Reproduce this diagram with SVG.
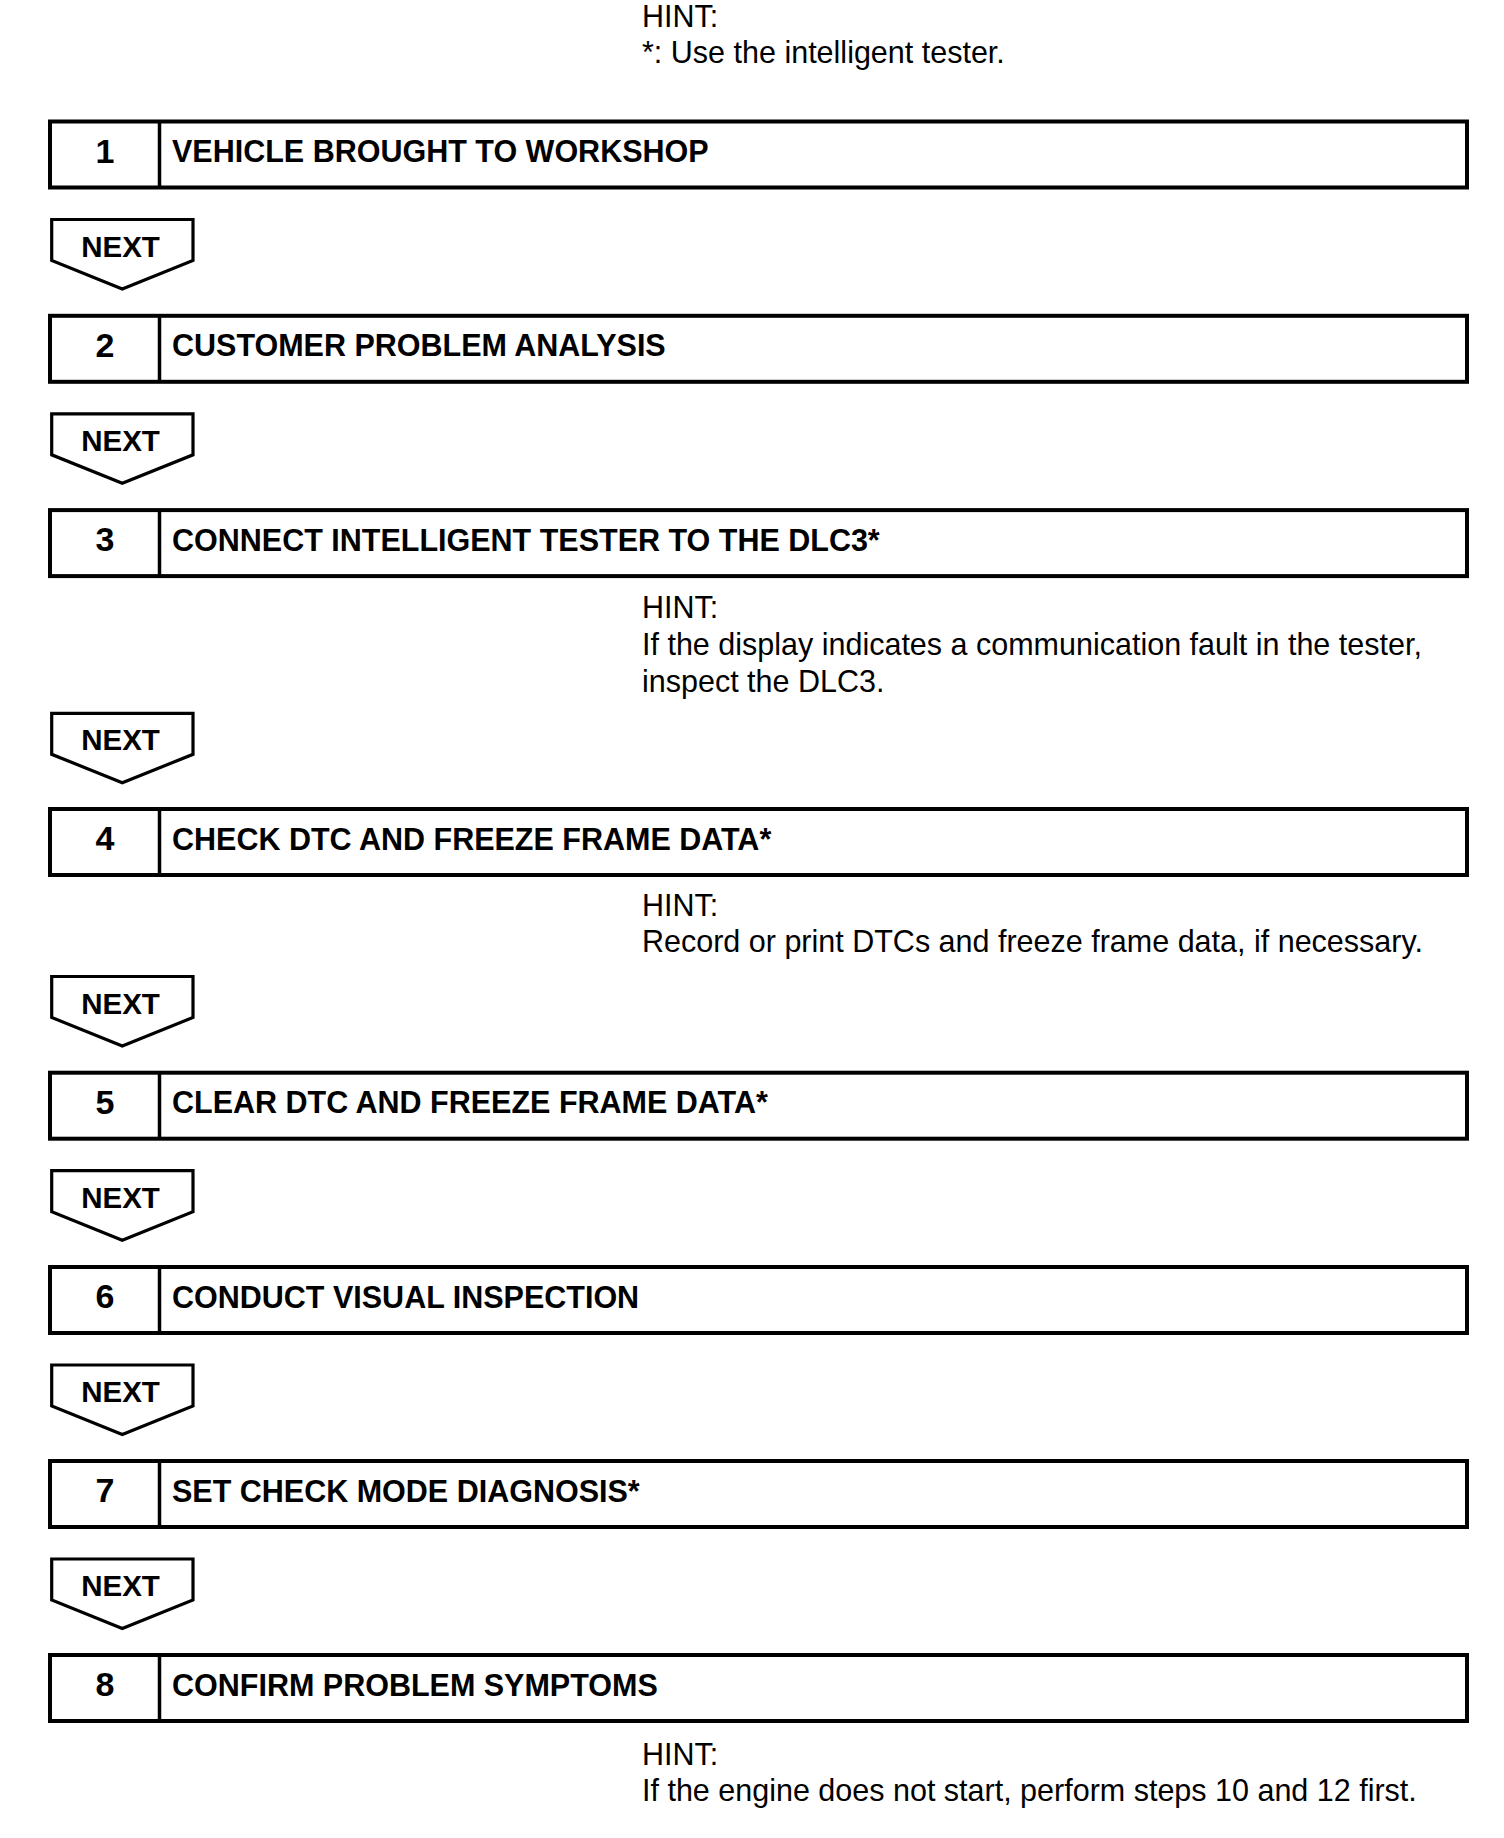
<svg xmlns="http://www.w3.org/2000/svg" width="1504" height="1838" viewBox="0 0 1504 1838">
<style>
.box{fill:#fff;stroke:#000;stroke-width:4}
.div{stroke:#000;stroke-width:3.5}
.num{font-family:"Liberation Sans",Arial,sans-serif;font-weight:bold;font-size:34px;text-anchor:middle;fill:#000}
.ttl{font-family:"Liberation Sans",Arial,sans-serif;font-weight:bold;font-size:30.5px;fill:#000}
.nx{fill:#fff;stroke:#000;stroke-width:3.2;stroke-linejoin:miter}
.nxt{font-family:"Liberation Sans",Arial,sans-serif;font-weight:bold;font-size:29.5px;text-anchor:middle;fill:#000}
.hint{font-family:"Liberation Sans",Arial,sans-serif;font-size:30.5px;fill:#000}
</style>
<defs>
<path id="nextShape" d="M51.7 0 H193 V41 L122.3 69.5 L51.7 41 Z"/>
</defs>

<g id="hint-top">
<text class="hint" x="642" y="27">HINT:</text>
<text class="hint" x="642" y="63">*: Use the intelligent tester.</text>
</g>

<g id="step1">
<rect class="box" x="50" y="121.5" width="1417" height="66"/>
<line class="div" x1="159.5" y1="121.5" x2="159.5" y2="187.5"/>
<text class="num" x="105" y="162.5">1</text>
<text class="ttl" x="172" y="162">VEHICLE BROUGHT TO WORKSHOP</text>
</g>

<g id="step2">
<rect class="box" x="50" y="315.8" width="1417" height="66"/>
<line class="div" x1="159.5" y1="315.8" x2="159.5" y2="381.8"/>
<text class="num" x="105" y="356.8">2</text>
<text class="ttl" x="172" y="356.3">CUSTOMER PROBLEM ANALYSIS</text>
</g>

<g id="step3">
<rect class="box" x="50" y="510.1" width="1417" height="66"/>
<line class="div" x1="159.5" y1="510.1" x2="159.5" y2="576.1"/>
<text class="num" x="105" y="551.1">3</text>
<text class="ttl" x="172" y="550.6">CONNECT INTELLIGENT TESTER TO THE DLC3*</text>
</g>

<g id="hint3">
<text class="hint" x="642" y="618">HINT:</text>
<text class="hint" x="642" y="655">If the display indicates a communication fault in the tester,</text>
<text class="hint" x="642" y="691.5">inspect the DLC3.</text>
</g>

<g id="step4">
<rect class="box" x="50" y="809" width="1417" height="66"/>
<line class="div" x1="159.5" y1="809" x2="159.5" y2="875"/>
<text class="num" x="105" y="850">4</text>
<text class="ttl" x="172" y="849.5">CHECK DTC AND FREEZE FRAME DATA*</text>
</g>

<g id="hint4">
<text class="hint" x="642" y="916">HINT:</text>
<text class="hint" x="642" y="952">Record or print DTCs and freeze frame data, if necessary.</text>
</g>

<g id="step5">
<rect class="box" x="50" y="1072.7" width="1417" height="66"/>
<line class="div" x1="159.5" y1="1072.7" x2="159.5" y2="1138.7"/>
<text class="num" x="105" y="1113.7">5</text>
<text class="ttl" x="172" y="1113.2">CLEAR DTC AND FREEZE FRAME DATA*</text>
</g>

<g id="step6">
<rect class="box" x="50" y="1267" width="1417" height="66"/>
<line class="div" x1="159.5" y1="1267" x2="159.5" y2="1333"/>
<text class="num" x="105" y="1308">6</text>
<text class="ttl" x="172" y="1307.5">CONDUCT VISUAL INSPECTION</text>
</g>

<g id="step7">
<rect class="box" x="50" y="1461" width="1417" height="66"/>
<line class="div" x1="159.5" y1="1461" x2="159.5" y2="1527"/>
<text class="num" x="105" y="1502">7</text>
<text class="ttl" x="172" y="1501.5">SET CHECK MODE DIAGNOSIS*</text>
</g>

<g id="step8">
<rect class="box" x="50" y="1655" width="1417" height="66"/>
<line class="div" x1="159.5" y1="1655" x2="159.5" y2="1721"/>
<text class="num" x="105" y="1696">8</text>
<text class="ttl" x="172" y="1695.5">CONFIRM PROBLEM SYMPTOMS</text>
</g>

<g id="hint8">
<text class="hint" x="642" y="1765">HINT:</text>
<text class="hint" x="642" y="1801">If the engine does not start, perform steps 10 and 12 first.</text>
</g>

<g id="connectors">
<g transform="translate(0,219.5)"><use href="#nextShape" class="nx"/><text class="nxt" x="120.5" y="37">NEXT</text></g>
<g transform="translate(0,413.8)"><use href="#nextShape" class="nx"/><text class="nxt" x="120.5" y="37">NEXT</text></g>
<g transform="translate(0,713.3)"><use href="#nextShape" class="nx"/><text class="nxt" x="120.5" y="37">NEXT</text></g>
<g transform="translate(0,976.5)"><use href="#nextShape" class="nx"/><text class="nxt" x="120.5" y="37">NEXT</text></g>
<g transform="translate(0,1170.7)"><use href="#nextShape" class="nx"/><text class="nxt" x="120.5" y="37">NEXT</text></g>
<g transform="translate(0,1365)"><use href="#nextShape" class="nx"/><text class="nxt" x="120.5" y="37">NEXT</text></g>
<g transform="translate(0,1559)"><use href="#nextShape" class="nx"/><text class="nxt" x="120.5" y="37">NEXT</text></g>
</g>
</svg>
